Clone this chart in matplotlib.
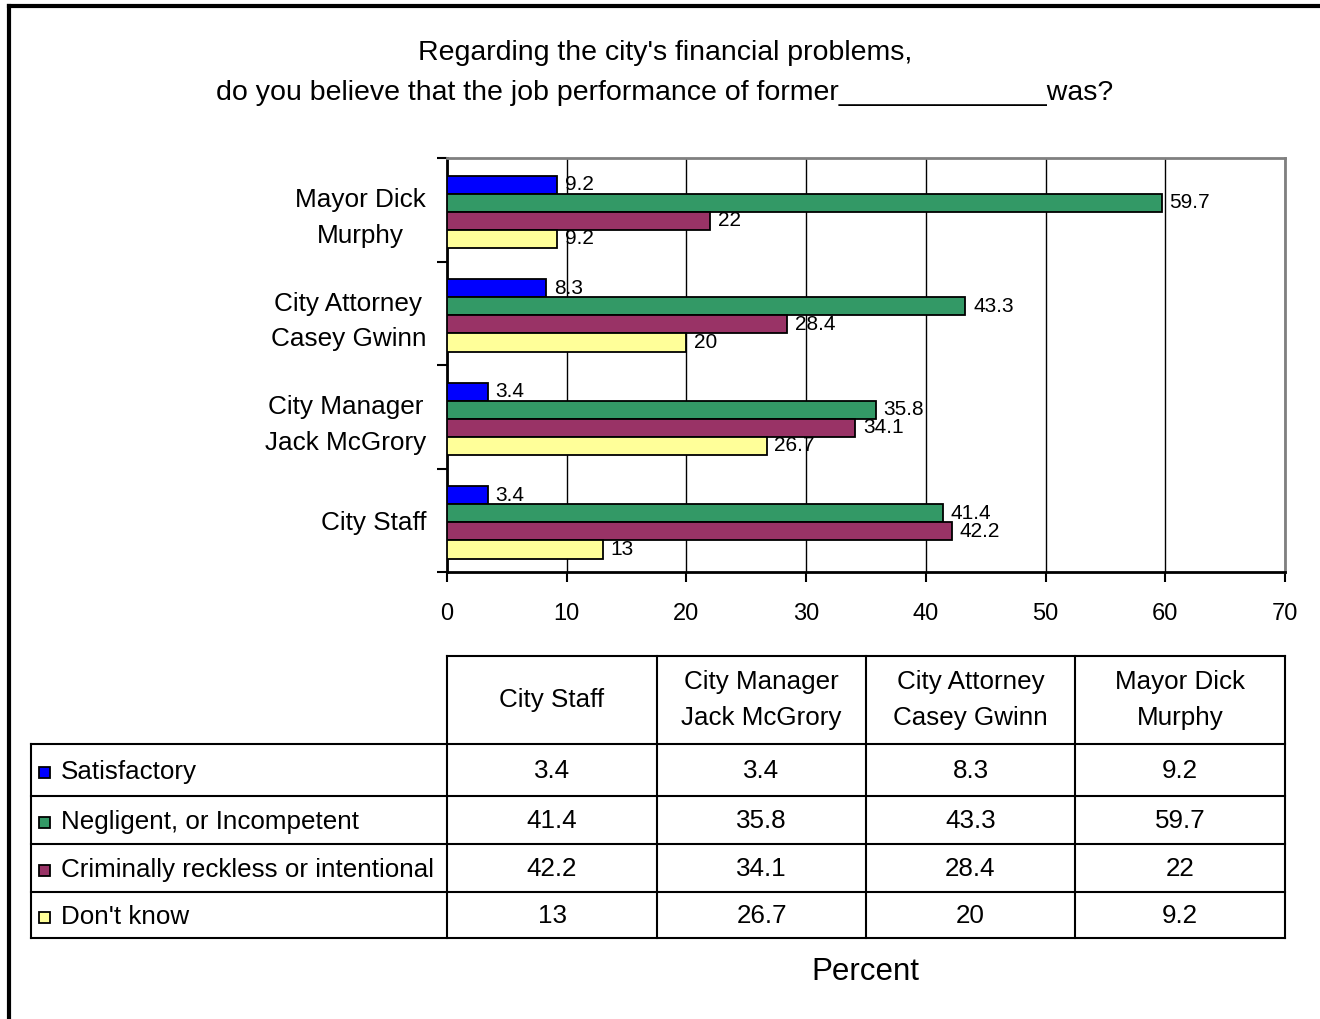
import numpy as np
import matplotlib.pyplot as plt

plt.rcParams['font.family'] = ['Liberation Sans', 'DejaVu Sans']

categories = ['City Staff', 'City Manager\nJack McGrory', 'City Attorney\nCasey Gwinn', 'Mayor Dick\nMurphy']
series = ['Satisfactory', 'Negligent, or Incompetent', 'Criminally reckless or intentional', "Don't know"]
satisfactory = [3.4, 3.4, 8.3, 9.2]
negligent = [41.4, 35.8, 43.3, 59.7]
criminal = [42.2, 34.1, 28.4, 22]
dont_know = [13, 26.7, 20, 9.2]
values = [satisfactory, negligent, criminal, dont_know]
colors = ['#0000FF', '#339966', '#993366', '#FFFF99']

W, H = 1320, 1019
fig = plt.figure(figsize=(W / 100, H / 100), dpi=100)

# overlay in pixel coordinates for the frame and the data table
ov = fig.add_axes([0, 0, 1, 1])
ov.set_xlim(0, W)
ov.set_ylim(H, 0)
ov.axis('off')

# main plot area (pixels: x 447-1285, y 158-572)
x0, x1, y0, y1 = 447, 1285, 158, 572
ax = fig.add_axes([x0 / W, 1 - y1 / H, (x1 - x0) / W, (y1 - y0) / H])

y = np.arange(len(categories))
h = 0.175
for j, (name, vals, c) in enumerate(zip(series, values, colors)):
    bars = ax.barh(y + (1.5 - j) * h - 0.02, vals, height=h, color=c,
                   edgecolor='black', linewidth=1.3, zorder=3)
    ax.bar_label(bars, fmt='%g', padding=5.5, fontsize=15)

ax.set_xlim(0, 70)
ax.set_ylim(-0.5, 3.5)
ax.set_xticks(np.arange(0, 71, 10))
ax.tick_params(axis='x', length=7, width=1.5, direction='out', pad=15, labelsize=17)
ax.set_yticks(y)
ax.set_yticklabels(categories, fontsize=18.8, multialignment='center', linespacing=1.6)
ax.tick_params(axis='y', which='major', length=0, pad=15)
ax.set_yticks(np.arange(-0.5, 4, 1), minor=True)
ax.tick_params(axis='y', which='minor', length=7, width=1.5, direction='out')
ax.grid(axis='x', color='black', linewidth=1)
ax.set_axisbelow(True)
for s in ['left', 'bottom']:
    ax.spines[s].set_linewidth(2)
for s in ['top', 'right']:
    ax.spines[s].set_color('#808080')
    ax.spines[s].set_linewidth(2)

# title
ov.text(665, 53, "Regarding the city's financial problems,", ha='center', va='center', fontsize=20.5)
ov.text(665, 93, "do you believe that the job performance of former_____________was?",
        ha='center', va='center', fontsize=20.5)

# outer frame (top and left edges)
ov.plot([9, W], [6, 6], color='black', lw=3)
ov.plot([9, 9], [6, H], color='black', lw=3)

# data table
cols = [31, 447, 657, 866, 1075, 1285]
rows = [656, 744, 796, 844, 892, 938]
lw = 1.5
ov.plot([cols[1], cols[-1]], [rows[0], rows[0]], color='black', lw=lw)
for r in rows[1:]:
    ov.plot([cols[0], cols[-1]], [r, r], color='black', lw=lw)
ov.plot([cols[0], cols[0]], [rows[1], rows[-1]], color='black', lw=lw)
for c in cols[1:]:
    ov.plot([c, c], [rows[0], rows[-1]], color='black', lw=lw)

for i, cat in enumerate(categories):
    cx = (cols[i + 1] + cols[i + 2]) / 2
    ov.text(cx, (rows[0] + rows[1]) / 2, cat, ha='center', va='center',
            fontsize=18.7, multialignment='center', linespacing=1.65)
    for j in range(len(series)):
        ov.text(cx, (rows[j + 1] + rows[j + 2]) / 2 + 1, f'{values[j][i]:g}',
                ha='center', va='center', fontsize=18.7)

for j, name in enumerate(series):
    cy = (rows[j + 1] + rows[j + 2]) / 2 + 2
    ov.add_patch(plt.Rectangle((39, cy - 5), 11, 11, facecolor=colors[j],
                               edgecolor='black', lw=1.3))
    ov.text(61, cy, name, ha='left', va='center', fontsize=18.7)

ov.text(865, 972, 'Percent', ha='center', va='center', fontsize=22.5)

fig.savefig('out.png', dpi=100)
